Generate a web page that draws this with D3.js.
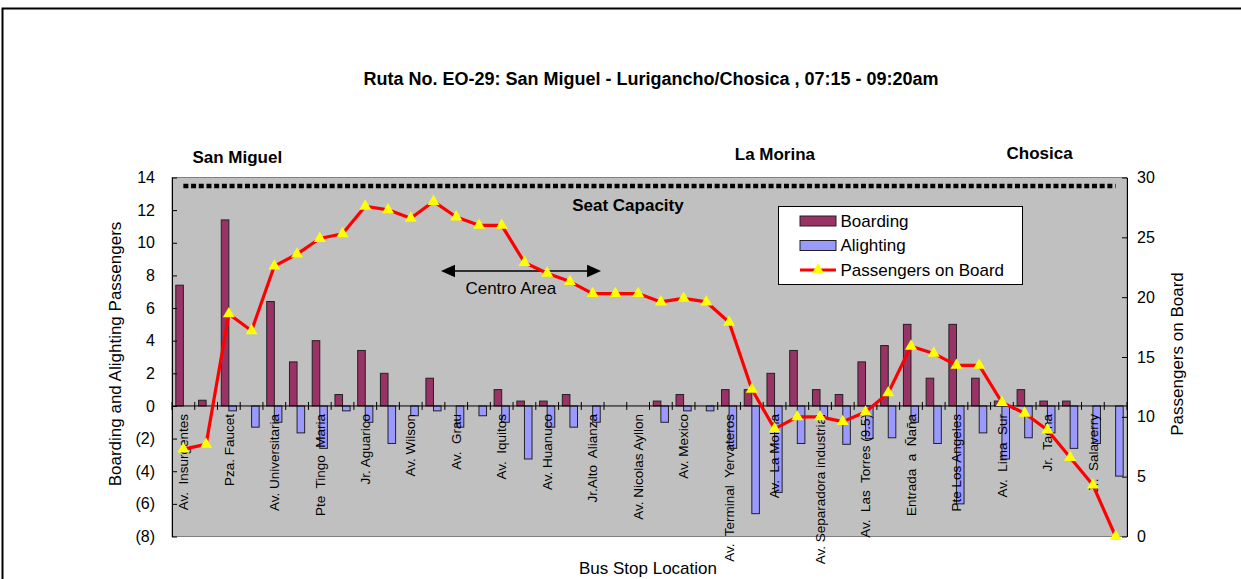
<!DOCTYPE html>
<html>
<head>
<meta charset="utf-8">
<script src="https://cdn.jsdelivr.net/npm/d3@7"></script>
<style>
  html, body { margin: 0; padding: 0; background: #fff; }
  svg { display: block; font-family: "Liberation Sans", Arial, sans-serif; }
  .stop-label { white-space: pre; }
</style>
</head>
<body>
<svg id="chart" width="1241" height="579"></svg>
<script>
// Bus stops along the route (every other stop is labelled)
const stops = [
  "Av.  Insurgentes", "", "Pza. Faucet", "", "Av. Universitaria", "",
  "Pte  Tingo  Maria", "", "Jr. Aguarico", "", "Av. Wilson", "",
  "Av.  Grau", "", "Av.  Iquitos", "", "Av. Huanuco", "",
  "Jr.Alto  Alianza", "", "Av. Nicolas Ayllon", "", "Av. Mexico", "",
  "Av.  Terminal  Yervateros", "", "Av.  La Molina", "", "Av. Separadora industrial", "",
  "Av.  Las  Torres (9.5)", "", "Entrada  a  Ñaña", "", "Pte Los Angeles", "",
  "Av.  Lima  Sur", "", "Jr.  Tacna", "", "Jr.  Salaverry", ""
];

// Passengers boarding at each stop
const boarding = [
  7.4, 0.35, 11.4, 0, 6.4, 2.7, 4.0, 0.7, 3.4, 2.0, 0, 1.7, 0, 0,
  1.0, 0.3, 0.3, 0.7, 0, 0, 0, 0.3, 0.7, 0, 1.0, 1.0, 2.0, 3.4,
  1.0, 0.7, 2.7, 3.7, 5.0, 1.7, 5.0, 1.7, 0.3, 1.0, 0.3, 0.3, 0, 0
];

// Passengers alighting at each stop (plotted below zero)
const alighting = [
  0, 0, -0.3, -1.3, -1.0, -1.65, -2.6, -0.3, -1.0, -2.3, -0.6, -0.3, -1.3, -0.6,
  -1.0, -3.25, -1.3, -1.3, -1.0, 0, 0, -1.0, -0.3, -0.3, -2.6, -6.6, -5.3, -2.3,
  -0.7, -2.35, -2.0, -1.95, -1.0, -2.3, -6.0, -1.65, -3.25, -1.95, -1.65, -2.6, -2.3, -4.3
];

// Passengers on board after each stop (right axis)
const onBoard = [
  7.3, 7.7, 18.6, 17.2, 22.6, 23.6, 24.9, 25.3, 27.6, 27.3, 26.6, 28.0, 26.7, 26.0,
  26.0, 22.9, 22.0, 21.3, 20.3, 20.3, 20.3, 19.6, 19.9, 19.6, 17.9, 12.3, 9.0, 10.0,
  10.0, 9.6, 10.4, 12.0, 15.9, 15.3, 14.3, 14.3, 11.2, 10.3, 8.9, 6.6, 4.3, 0
];

const seatCapacity = 29.3;

const leftTicks = [-8, -6, -4, -2, 0, 2, 4, 6, 8, 10, 12, 14];
const rightTicks = [0, 5, 10, 15, 20, 25, 30];

const zones = [
  { name: "San Miguel", at: 0.9, y: 163 },
  { name: "La Morina", at: 24.75, y: 160 },
  { name: "Chosica", at: 36.7, y: 159 }
];

const svg = d3.select("#chart");
const plot = { left: 172, right: 1127, top: 177.5, bottom: 536.5 };
const n = stops.length;

const x = d3.scaleBand().domain(d3.range(n)).range([plot.left, plot.right]).paddingInner(0).paddingOuter(0);
const xs = d3.scaleBand().domain(["b", "a"]).range([0, x.bandwidth()]).paddingInner(0).paddingOuter(0.5);
const xc = d3.scaleLinear().domain([0, n]).range([plot.left, plot.right]);
const yL = d3.scaleLinear().domain([-8, 14]).range([plot.bottom, plot.top]);
const yR = d3.scaleLinear().domain([0, 30]).range([plot.bottom, plot.top]);
const mid = i => x(i) + x.bandwidth() / 2;

// outer frame
svg.append("rect").attr("x", 2.5).attr("y", 8.5).attr("width", 1300).attr("height", 700)
  .attr("fill", "#fff").attr("stroke", "#000").attr("stroke-width", 2);

// plot background
svg.append("rect").attr("x", plot.left).attr("y", plot.top)
  .attr("width", plot.right - plot.left).attr("height", plot.bottom - plot.top)
  .attr("fill", "#c0c0c0").attr("stroke", "#808080").attr("stroke-width", 1);

// title
svg.append("text").attr("x", 651).attr("y", 85).attr("text-anchor", "middle")
  .attr("font-size", 18).attr("font-weight", "bold")
  .text("Ruta No. EO-29: San Miguel - Lurigancho/Chosica , 07:15 - 09:20am");

// zone names
svg.selectAll("text.zone").data(zones).join("text").attr("class", "zone")
  .attr("x", d => xc(d.at)).attr("y", d => d.y)
  .attr("font-size", 17).attr("font-weight", "bold").text(d => d.name);

// seat capacity dotted line
svg.append("path")
  .datum(d3.range(n))
  .attr("d", d3.line().x(i => mid(i)).y(() => yR(seatCapacity)))
  .attr("fill", "none").attr("stroke", "#000").attr("stroke-width", 4.5)
  .attr("stroke-dasharray", "5,2.7");

svg.append("text").attr("x", xc(17.6)).attr("y", 211).attr("font-size", 17).attr("font-weight", "bold")
  .text("Seat Capacity");

// boarding bars
svg.append("g").selectAll("rect").data(boarding).join("rect")
  .attr("x", (d, i) => x(i) + xs("b"))
  .attr("width", xs.bandwidth())
  .attr("y", d => yL(Math.max(0, d)))
  .attr("height", d => Math.abs(yL(d) - yL(0)))
  .attr("fill", "#993366").attr("stroke", "#222").attr("stroke-width", 1)
  .attr("display", d => d === 0 ? "none" : null);

// alighting bars
svg.append("g").selectAll("rect").data(alighting).join("rect")
  .attr("x", (d, i) => x(i) + xs("a"))
  .attr("width", xs.bandwidth())
  .attr("y", d => yL(Math.max(0, d)))
  .attr("height", d => Math.abs(yL(d) - yL(0)))
  .attr("fill", "#9999ff").attr("stroke", "#222").attr("stroke-width", 1)
  .attr("display", d => d === 0 ? "none" : null);

// category axis along zero
const zeroY = yL(0);
svg.append("line").attr("x1", plot.left).attr("x2", plot.right).attr("y1", zeroY).attr("y2", zeroY)
  .attr("stroke", "#000").attr("stroke-width", 1);
svg.append("g").selectAll("line").data(d3.range(n + 1)).join("line")
  .attr("x1", i => xc(i)).attr("x2", i => xc(i))
  .attr("y1", zeroY - 4).attr("y2", zeroY + 4)
  .attr("stroke", "#000").attr("stroke-width", 1);

// stop labels
svg.append("g").selectAll("text").data(stops).join("text")
  .attr("class", "stop-label")
  .attr("transform", (d, i) => `translate(${mid(i)},${zeroY + 8}) rotate(-90)`)
  .attr("text-anchor", "end").attr("dy", "0.35em")
  .attr("font-size", 13.5).attr("fill", "#000")
  .text(d => d);

// Centro Area annotation
const arrowY = 271;
const ax0 = xc(11.83), ax1 = xc(18.87);
svg.append("line").attr("x1", ax0 + 12).attr("x2", ax1 - 12).attr("y1", arrowY).attr("y2", arrowY)
  .attr("stroke", "#000").attr("stroke-width", 1.3);
svg.append("path").attr("d", `M${ax0},${arrowY} L${ax0 + 14},${arrowY - 6.3} L${ax0 + 14},${arrowY + 6.3} Z`).attr("fill", "#000");
svg.append("path").attr("d", `M${ax1},${arrowY} L${ax1 - 14},${arrowY - 6.3} L${ax1 - 14},${arrowY + 6.3} Z`).attr("fill", "#000");
svg.append("text").attr("x", xc(14.9)).attr("y", 293.5).attr("text-anchor", "middle")
  .attr("font-size", 17).text("Centro Area");

// passengers on board line
svg.append("path").datum(onBoard)
  .attr("d", d3.line().x((d, i) => mid(i)).y(d => yR(d)))
  .attr("fill", "none").attr("stroke", "#ff0000").attr("stroke-width", 3.2)
  .attr("stroke-linejoin", "round");
const tri = d3.symbol().type(d3.symbolTriangle).size(62);
svg.append("g").selectAll("path").data(onBoard).join("path")
  .attr("transform", (d, i) => `translate(${mid(i)},${yR(d)})`)
  .attr("d", tri).attr("fill", "#ffff00");

// left axis
const leftAxis = d3.axisLeft(yL).tickValues(leftTicks).tickSizeInner(-5).tickSizeOuter(0).tickPadding(17)
  .tickFormat(d => d < 0 ? `(${-d})` : `${d}`);
const gl = svg.append("g").attr("transform", `translate(${plot.left},0)`).call(leftAxis);
gl.select(".domain").attr("stroke", "#000");
gl.selectAll("text").attr("font-size", 16).attr("font-family", "Liberation Sans, Arial, sans-serif").attr("fill", "#000");

// right axis
const rightAxis = d3.axisRight(yR).tickValues(rightTicks).tickSizeInner(-5).tickSizeOuter(0).tickPadding(10);
const gr = svg.append("g").attr("transform", `translate(${plot.right},0)`).call(rightAxis);
gr.select(".domain").attr("stroke", "#000");
gr.selectAll("text").attr("font-size", 16).attr("font-family", "Liberation Sans, Arial, sans-serif").attr("fill", "#000");

// axis titles
svg.append("text").attr("transform", `translate(115,354) rotate(-90)`)
  .attr("text-anchor", "middle").attr("dy", "0.35em").attr("font-size", 17)
  .text("Boarding and Alighting Passengers");
svg.append("text").attr("transform", `translate(1177,354) rotate(-90)`)
  .attr("text-anchor", "middle").attr("dy", "0.35em").attr("font-size", 17)
  .text("Passengers on Board");
svg.append("text").attr("x", 648).attr("y", 574).attr("text-anchor", "middle").attr("font-size", 17)
  .text("Bus Stop Location");

// legend
const lg = svg.append("g").attr("transform", "translate(778.5,206.5)");
lg.append("rect").attr("width", 244).attr("height", 78).attr("fill", "#fff").attr("stroke", "#000").attr("stroke-width", 1);
const legendItems = ["Boarding", "Alighting", "Passengers on Board"];
const legendFill = ["#993366", "#9999ff"];
legendItems.forEach((name, k) => {
  const cy = 14.5 + k * 24.5;
  if (k < 2) {
    lg.append("rect").attr("x", 21.5).attr("y", cy - 5).attr("width", 36).attr("height", 10)
      .attr("fill", legendFill[k]).attr("stroke", "#222").attr("stroke-width", 1);
  } else {
    lg.append("line").attr("x1", 21.5).attr("x2", 57.5).attr("y1", cy).attr("y2", cy)
      .attr("stroke", "#ff0000").attr("stroke-width", 3.2);
    lg.append("path").attr("transform", `translate(39.5,${cy})`).attr("d", tri).attr("fill", "#ffff00");
  }
  lg.append("text").attr("x", 62).attr("y", cy).attr("dy", "0.35em").attr("font-size", 17).text(name);
});
</script>
</body>
</html>
